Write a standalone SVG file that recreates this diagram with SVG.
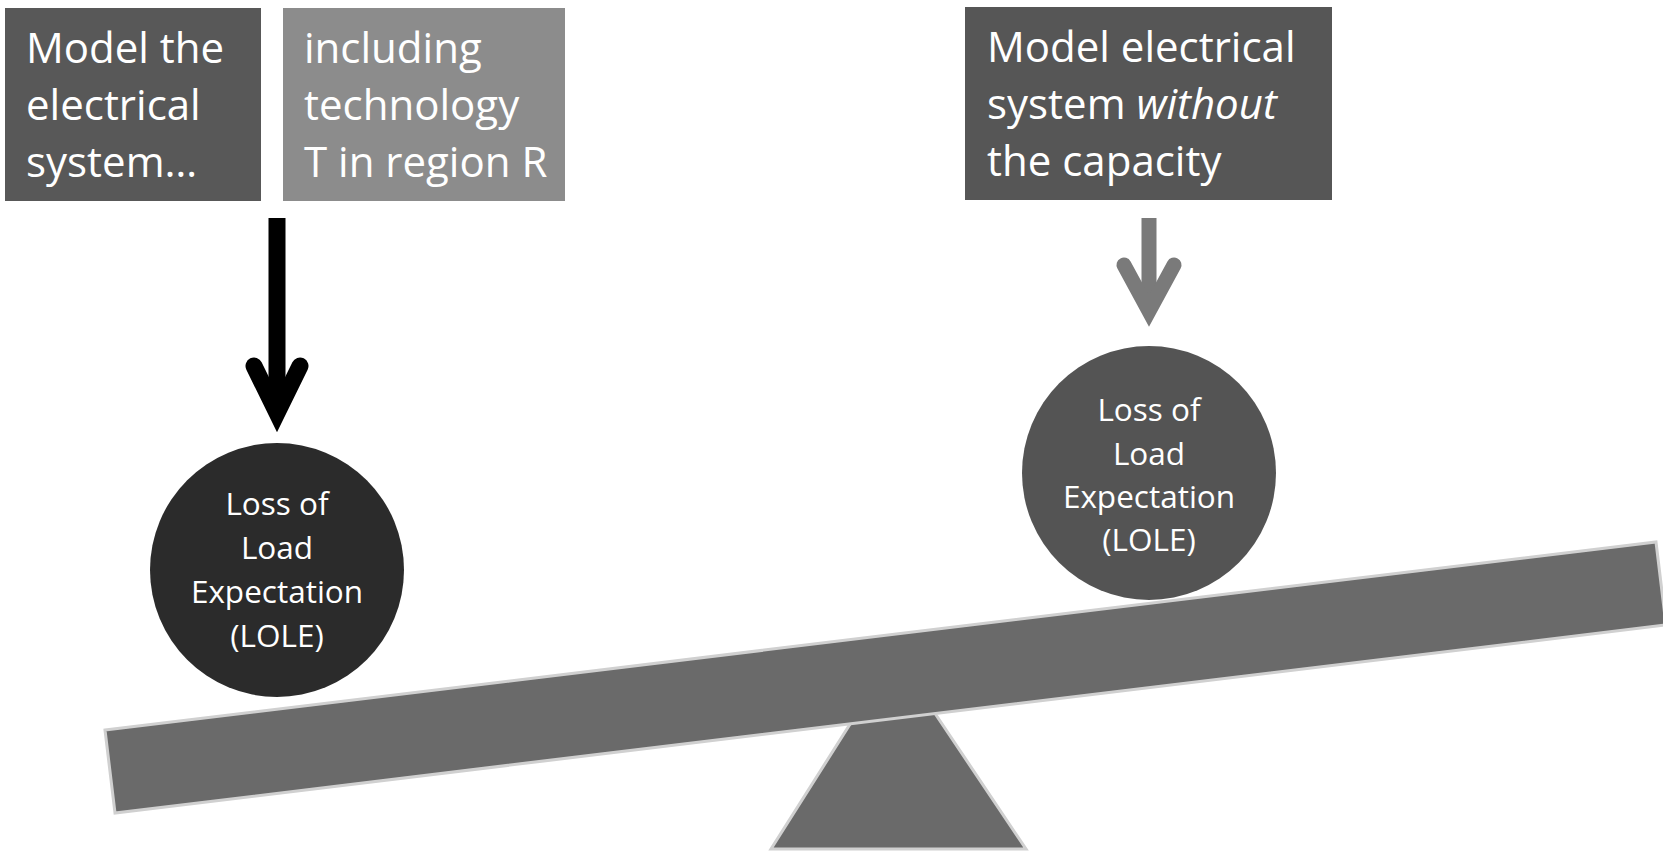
<svg xmlns="http://www.w3.org/2000/svg" width="1663" height="851" viewBox="0 0 1663 851">
<style>
.bt{font-family:"Open Sans","Noto Sans","Liberation Sans",sans-serif;font-size:42px;fill:#fff}
.ct{font-family:"Open Sans","Noto Sans","Liberation Sans",sans-serif;font-size:31.5px;fill:#fff;text-anchor:middle}
.arm{fill:none;stroke-linecap:round;stroke-linejoin:miter;stroke-miterlimit:10}
.shape{fill:#6a6a6a;stroke:#d0d0d0;stroke-width:3}
</style>
<rect width="1663" height="851" fill="#fff"/>
<g id="fulcrum">
<polygon class="shape" points="859,710 926,700 1026,849 771,849"/>
</g>
<g id="beam">
<polygon class="shape" points="105,730 1656,542 1666,625 115,813"/>
</g>
<g id="box1">
<rect x="5" y="8" width="256" height="193" fill="#585858"/>
<text class="bt" x="26" y="63">Model the</text>
<text class="bt" x="26" y="120">electrical</text>
<text class="bt" x="26" y="177">system…</text>
</g>
<g id="box2">
<rect x="283" y="8" width="282" height="193" fill="#8c8c8c"/>
<text class="bt" x="304" y="63">including</text>
<text class="bt" x="304" y="120">technology</text>
<text class="bt" x="304" y="177">T in region R</text>
</g>
<g id="box3">
<rect x="965" y="7" width="367" height="193" fill="#565656"/>
<text class="bt" x="987" y="62">Model electrical</text>
<text class="bt" x="987" y="119">system <tspan font-style="italic">without</tspan></text>
<text class="bt" x="987" y="176">the capacity</text>
</g>
<g id="circle-left">
<circle cx="277" cy="570" r="127" fill="#2b2b2b"/>
<text class="ct" x="277" y="515">Loss of</text>
<text class="ct" x="277" y="559">Load</text>
<text class="ct" x="277" y="603">Expectation</text>
<text class="ct" x="277" y="647">(LOLE)</text>
</g>
<g id="circle-right">
<circle cx="1149" cy="473" r="127" fill="#545454"/>
<text class="ct" x="1149" y="421">Loss of</text>
<text class="ct" x="1149" y="465">Load</text>
<text class="ct" x="1149" y="508">Expectation</text>
<text class="ct" x="1149" y="551">(LOLE)</text>
</g>
<g id="connectors">
<line x1="277" y1="218" x2="277" y2="410" stroke="#000" stroke-width="17"/>
<polyline class="arm" points="254,366 277,413 300,366" stroke="#000" stroke-width="17"/>
<line x1="1149" y1="218" x2="1149" y2="308" stroke="#7a7a7a" stroke-width="15"/>
<polyline class="arm" points="1124,265 1149,311 1174,265" stroke="#7a7a7a" stroke-width="15"/>
</g>
</svg>
